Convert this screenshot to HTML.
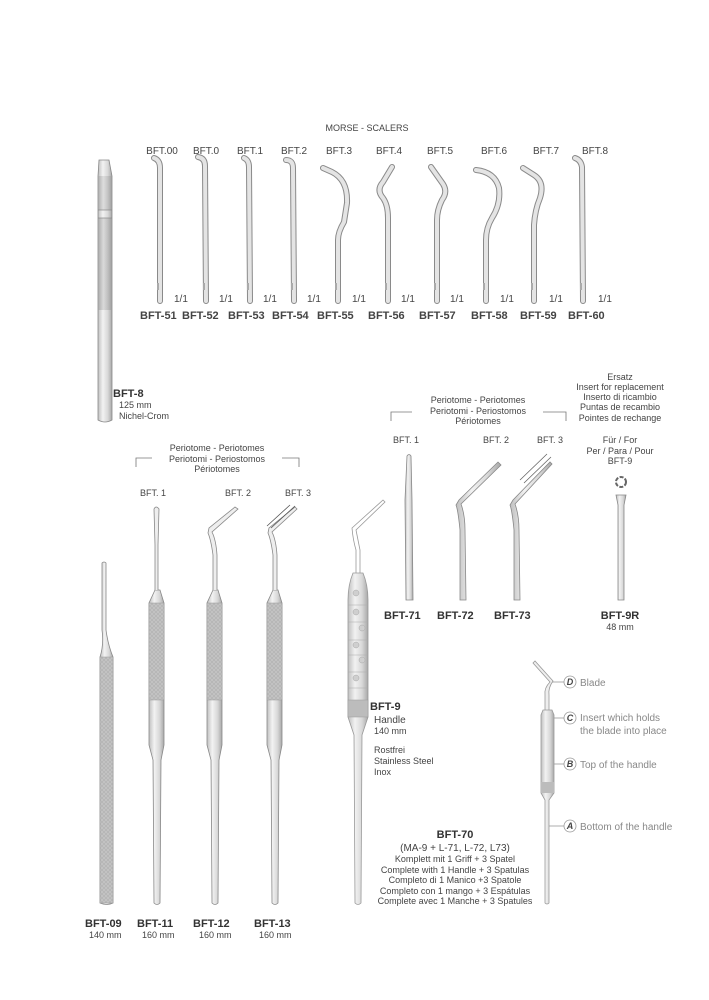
<!DOCTYPE html>
<html><head><meta charset="utf-8"><style>
html,body{margin:0;padding:0;background:#fff}
svg{display:block}
text{font-family:"Liberation Sans",sans-serif;fill:#444}
.s{font-size:9px}
.t{font-size:10px;fill:#555}
.b{font-size:11px;font-weight:bold;fill:#333}
.m{font-size:9px}
.g{font-size:10px;fill:#888}
</style></head><body>
<svg width="709" height="1000" viewBox="0 0 709 1000" xmlns="http://www.w3.org/2000/svg">
<defs>
<linearGradient id="met" x1="0" x2="1" y1="0" y2="0">
<stop offset="0" stop-color="#bfbfbf"/><stop offset="0.35" stop-color="#f2f2f2"/><stop offset="0.7" stop-color="#d8d8d8"/><stop offset="1" stop-color="#a8a8a8"/></linearGradient>
<linearGradient id="dk" x1="0" x2="1" y1="0" y2="0">
<stop offset="0" stop-color="#a0a0a0"/><stop offset="0.4" stop-color="#d0d0d0"/><stop offset="1" stop-color="#9a9a9a"/></linearGradient>
<pattern id="knurl" width="4" height="4" patternUnits="userSpaceOnUse"><rect width="4" height="4" fill="#c4c4c4"/><path d="M0 4L4 0M0 0L4 4" stroke="#b0b0b0" stroke-width="0.6"/></pattern>
</defs>

<text x="367" y="131" class="s" text-anchor="middle">MORSE - SCALERS</text>

<!-- BFT-8 handle -->
<path d="M99 160 L109 160 L112 176 L112 420 Q105 424 98 420 L98 176 Z" fill="url(#met)" stroke="#888" stroke-width="0.8"/>
<rect x="98" y="176" width="14" height="34" fill="url(#dk)" opacity="0.6"/>
<rect x="98" y="218" width="14" height="92" fill="url(#dk)" opacity="0.7"/>
<line x1="98" y1="210" x2="112" y2="210" stroke="#888" stroke-width="0.7"/>
<line x1="98" y1="218" x2="112" y2="218" stroke="#888" stroke-width="0.7"/>
<text x="113" y="397" class="b">BFT-8</text>
<text x="119" y="408" class="m">125 mm</text>
<text x="119" y="419" class="m">Nichel-Crom</text>

<!-- scalers -->
<g fill="none" stroke="#8a8a8a" stroke-width="6" stroke-linecap="round" stroke-linejoin="round">
<path d="M160 301 L160 168 Q160 160 154 158"/>
<path d="M206 301 L205 166 Q205 158 198 157"/>
<path d="M250 301 L249 167 Q249 160 244 158"/>
<path d="M294 301 L293 168 Q293 160 286 160"/>
<path d="M338 301 L338 240 Q338 232 344 222 L347 203 Q348 180 332 172 L323 168"/>
<path d="M388 301 L388 218 Q388 205 383 198 Q376 190 383 182 L392 167"/>
<path d="M437 301 L437 220 Q437 210 442 200 Q448 192 443 184 L431 167"/>
<path d="M486 301 L486 240 Q486 228 492 218 Q501 204 499 188 Q495 172 476 170"/>
<path d="M534 301 L534 225 Q535 210 540 198 Q545 182 534 175 L523 168"/>
<path d="M583 301 L582 167 Q581 160 575 158"/>
</g>
<g fill="none" stroke="#e4e4e4" stroke-width="4" stroke-linecap="round" stroke-linejoin="round">
<path d="M160 301 L160 168 Q160 160 154 158"/>
<path d="M206 301 L205 166 Q205 158 198 157"/>
<path d="M250 301 L249 167 Q249 160 244 158"/>
<path d="M294 301 L293 168 Q293 160 286 160"/>
<path d="M338 301 L338 240 Q338 232 344 222 L347 203 Q348 180 332 172 L323 168"/>
<path d="M388 301 L388 218 Q388 205 383 198 Q376 190 383 182 L392 167"/>
<path d="M437 301 L437 220 Q437 210 442 200 Q448 192 443 184 L431 167"/>
<path d="M486 301 L486 240 Q486 228 492 218 Q501 204 499 188 Q495 172 476 170"/>
<path d="M534 301 L534 225 Q535 210 540 198 Q545 182 534 175 L523 168"/>
<path d="M583 301 L582 167 Q581 160 575 158"/>
</g>
<g fill="#aaa"><rect x="157" y="283" width="2" height="7"/><rect x="203" y="283" width="2" height="7"/><rect x="247" y="283" width="2" height="7"/><rect x="291" y="283" width="2" height="7"/><rect x="335" y="283" width="2" height="7"/><rect x="385" y="283" width="2" height="7"/><rect x="434" y="283" width="2" height="7"/><rect x="483" y="283" width="2" height="7"/><rect x="531" y="283" width="2" height="7"/><rect x="580" y="283" width="2" height="7"/></g>
<g class="t">
<text x="162" y="154" text-anchor="middle">BFT.00</text>
<text x="206" y="154" text-anchor="middle">BFT.0</text>
<text x="250" y="154" text-anchor="middle">BFT.1</text>
<text x="294" y="154" text-anchor="middle">BFT.2</text>
<text x="339" y="154" text-anchor="middle">BFT.3</text>
<text x="389" y="154" text-anchor="middle">BFT.4</text>
<text x="440" y="154" text-anchor="middle">BFT.5</text>
<text x="494" y="154" text-anchor="middle">BFT.6</text>
<text x="546" y="154" text-anchor="middle">BFT.7</text>
<text x="595" y="154" text-anchor="middle">BFT.8</text>
<text x="174" y="302">1/1</text><text x="219" y="302">1/1</text><text x="263" y="302">1/1</text><text x="307" y="302">1/1</text><text x="352" y="302">1/1</text><text x="401" y="302">1/1</text><text x="450" y="302">1/1</text><text x="500" y="302">1/1</text><text x="549" y="302">1/1</text><text x="598" y="302">1/1</text>
</g>
<g class="b">
<text x="140" y="319">BFT-51</text><text x="182" y="319">BFT-52</text><text x="228" y="319">BFT-53</text><text x="272" y="319">BFT-54</text><text x="317" y="319">BFT-55</text><text x="368" y="319">BFT-56</text><text x="419" y="319">BFT-57</text><text x="471" y="319">BFT-58</text><text x="520" y="319">BFT-59</text><text x="568" y="319">BFT-60</text>
</g>

<!-- left periotome group labels -->
<text x="217" y="451" class="s" text-anchor="middle">Periotome - Periotomes</text>
<text x="217" y="462" class="s" text-anchor="middle">Periotomi - Periostomos</text>
<text x="217" y="472" class="s" text-anchor="middle">Périotomes</text>
<path d="M136 467 V458 H152 M282 458 H299 V467" fill="none" stroke="#777" stroke-width="0.8"/>
<text x="153" y="496" class="s" text-anchor="middle">BFT. 1</text>
<text x="238" y="496" class="s" text-anchor="middle">BFT. 2</text>
<text x="298" y="496" class="s" text-anchor="middle">BFT. 3</text>

<!-- BFT-09 -->
<path d="M102 563 Q104 561 106 563 L106 630 Q108 645 113 657 L113 903 Q107 906 100 903 L100 657 Q104 645 102 630 Z" fill="url(#met)" stroke="#888" stroke-width="0.8"/>
<rect x="100" y="657" width="13" height="246" fill="url(#knurl)" stroke="#999" stroke-width="0.5"/>
<g id="h11">
<path d="M155 590 L160 590 L164 603 L164 745 L161 760 L160 903 Q157 906 154 903 L153 760 L149 745 L149 603 Z" fill="url(#met)" stroke="#888" stroke-width="0.8"/>
<rect x="149" y="603" width="15" height="97" fill="url(#knurl)" stroke="#999" stroke-width="0.5"/>
</g>
<use href="#h11" x="58"/>
<use href="#h11" x="118"/>
<path d="M155 590 L155 545 L154 509 Q156 505 159 509 L158 545 L158 590" fill="#eee" stroke="#888" stroke-width="0.8"/>
<path d="M213 590 L213 555 Q211 540 208 533 L209 528 L235 507 L238 509 L212 532 Q216 540 217 555 L217 590" fill="#eee" stroke="#888" stroke-width="0.8"/>
<path d="M273 590 L273 555 Q271 540 268 533 L269 528 L295 507 L297 509 L272 532 Q276 540 277 555 L277 590" fill="#eee" stroke="#888" stroke-width="0.8"/>
<path d="M271 528 L295 506 M267 526 L290 505" stroke="#555" stroke-width="0.8" fill="none"/>
<text x="85" y="927" class="b">BFT-09</text><text x="89" y="938" class="m">140 mm</text>
<text x="137" y="927" class="b">BFT-11</text><text x="142" y="938" class="m">160 mm</text>
<text x="193" y="927" class="b">BFT-12</text><text x="199" y="938" class="m">160 mm</text>
<text x="254" y="927" class="b">BFT-13</text><text x="259" y="938" class="m">160 mm</text>

<!-- BFT-9 handle -->
<path d="M356 573 L356 550 Q353 540 352 528 L383 500 L385 502 L356 530 Q358 540 360 550 L360 573" fill="none" stroke="#999" stroke-width="0.8"/>
<path d="M353 573 L363 573 Q368 585 368 600 L368 717 L362 735 L361 903 Q358 906 355 903 L354 735 L348 717 L348 600 Q348 585 353 573 Z" fill="url(#met)" stroke="#999" stroke-width="0.8"/>
<rect x="348" y="700" width="20" height="17" fill="#bcbcbc" stroke="#999" stroke-width="0.5"/>
<g fill="#cfcfcf" stroke="#aaa" stroke-width="0.5">
<circle cx="356" cy="593" r="3"/><circle cx="356" cy="612" r="3"/><circle cx="362" cy="628" r="3"/><circle cx="356" cy="645" r="3"/><circle cx="362" cy="660" r="3"/><circle cx="356" cy="678" r="3"/>
</g>
<g stroke="#aaa" stroke-width="0.5"><line x1="348" y1="605" x2="368" y2="605"/><line x1="348" y1="622" x2="368" y2="622"/><line x1="348" y1="640" x2="368" y2="640"/><line x1="348" y1="655" x2="368" y2="655"/><line x1="348" y1="672" x2="368" y2="672"/><line x1="348" y1="688" x2="368" y2="688"/></g>
<text x="370" y="710" class="b">BFT-9</text>
<text x="374" y="723" style="font-size:10px">Handle</text>
<text x="374" y="734" class="m">140 mm</text>
<text x="374" y="753" class="m">Rostfrei</text>
<text x="374" y="764" class="m">Stainless Steel</text>
<text x="374" y="775" class="m">Inox</text>

<!-- right periotomes -->
<text x="478" y="403" class="s" text-anchor="middle">Periotome - Periotomes</text>
<text x="478" y="414" class="s" text-anchor="middle">Periotomi - Periostomos</text>
<text x="478" y="424" class="s" text-anchor="middle">Périotomes</text>
<path d="M391 421 V412 H412 M543 412 H566 V421" fill="none" stroke="#777" stroke-width="0.8"/>
<text x="406" y="443" class="s" text-anchor="middle">BFT. 1</text>
<text x="496" y="443" class="s" text-anchor="middle">BFT. 2</text>
<text x="550" y="443" class="s" text-anchor="middle">BFT. 3</text>
<path d="M406 600 L405 500 L407 456 Q409 453 411 456 L412 500 L413 600 Z" fill="url(#met)" stroke="#888" stroke-width="0.8"/>
<path d="M460 600 L460 530 Q458 510 456 505 L459 500 L498 462 L501 465 L461 504 Q465 515 465 530 L466 600 Z" fill="url(#met)" stroke="#888" stroke-width="0.8"/>
<path d="M514 600 L514 530 Q512 510 510 505 L513 500 L550 462 L552 464 L515 504 Q519 515 519 530 L520 600 Z" fill="url(#met)" stroke="#888" stroke-width="0.8"/>
<path d="M524 483 L551 457 M520 480 L547 454" stroke="#666" stroke-width="0.8" fill="none"/>
<text x="384" y="619" class="b">BFT-71</text>
<text x="437" y="619" class="b">BFT-72</text>
<text x="494" y="619" class="b">BFT-73</text>

<!-- BFT-9R -->
<g class="s" text-anchor="middle">
<text x="620" y="380">Ersatz</text>
<text x="620" y="390">Insert for replacement</text>
<text x="620" y="400">Inserto di ricambio</text>
<text x="620" y="410">Puntas de recambio</text>
<text x="620" y="421">Pointes de rechange</text>
<text x="620" y="443">Für / For</text>
<text x="620" y="454">Per / Para / Pour</text>
<text x="620" y="464">BFT-9</text>
</g>
<circle cx="621" cy="482" r="5" fill="none" stroke="#666" stroke-width="2" stroke-dasharray="4 1.5"/>
<path d="M616 495 L626 495 L624 505 L624 600 L618 600 L618 505 Z" fill="url(#met)" stroke="#888" stroke-width="0.8"/>
<text x="620" y="619" class="b" text-anchor="middle">BFT-9R</text>
<text x="620" y="630" class="m" text-anchor="middle">48 mm</text>

<!-- small assembly -->
<path d="M545 710 L545 695 Q544 688 550 682 L533 663 L535 661 L553 681 Q548 688 549 695 L549 710" fill="#eee" stroke="#999" stroke-width="0.8"/>
<path d="M543 710 L552 710 L554 715 L554 793 L549 800 L549 903 Q547 905 545 903 L545 800 L541 793 L541 715 Z" fill="url(#met)" stroke="#999" stroke-width="0.8"/>
<rect x="541" y="782" width="13" height="11" fill="#bcbcbc"/>
<g stroke="#999" stroke-width="0.8" fill="#fff">
<line x1="552" y1="682" x2="564" y2="682"/><circle cx="570" cy="682" r="6"/>
<line x1="554" y1="718" x2="564" y2="718"/><circle cx="570" cy="718" r="6"/>
<line x1="554" y1="764" x2="564" y2="764"/><circle cx="570" cy="764" r="6"/>
<line x1="549" y1="826" x2="564" y2="826"/><circle cx="570" cy="826" r="6"/>
</g>
<g style="font-size:9px;font-weight:bold;font-style:italic" text-anchor="middle">
<text x="570" y="685" fill="#555">D</text><text x="570" y="721" fill="#555">C</text><text x="570" y="767" fill="#555">B</text><text x="570" y="829" fill="#555">A</text>
</g>
<text x="580" y="686" class="g">Blade</text>
<text x="580" y="721" class="g">Insert which holds</text>
<text x="580" y="734" class="g">the blade into place</text>
<text x="580" y="768" class="g">Top of the handle</text>
<text x="580" y="830" class="g">Bottom of the handle</text>

<text x="455" y="838" class="b" text-anchor="middle">BFT-70</text>
<g class="s" text-anchor="middle">
<text x="455" y="851" style="font-size:10px">(MA-9 + L-71, L-72, L73)</text>
<text x="455" y="862">Komplett mit 1 Griff + 3 Spatel</text>
<text x="455" y="873">Complete with 1 Handle + 3 Spatulas</text>
<text x="455" y="883">Completo di 1 Manico +3 Spatole</text>
<text x="455" y="894">Completo con 1 mango + 3 Espátulas</text>
<text x="455" y="904">Complete avec 1 Manche + 3 Spatules</text>
</g>
</svg>
</body></html>
